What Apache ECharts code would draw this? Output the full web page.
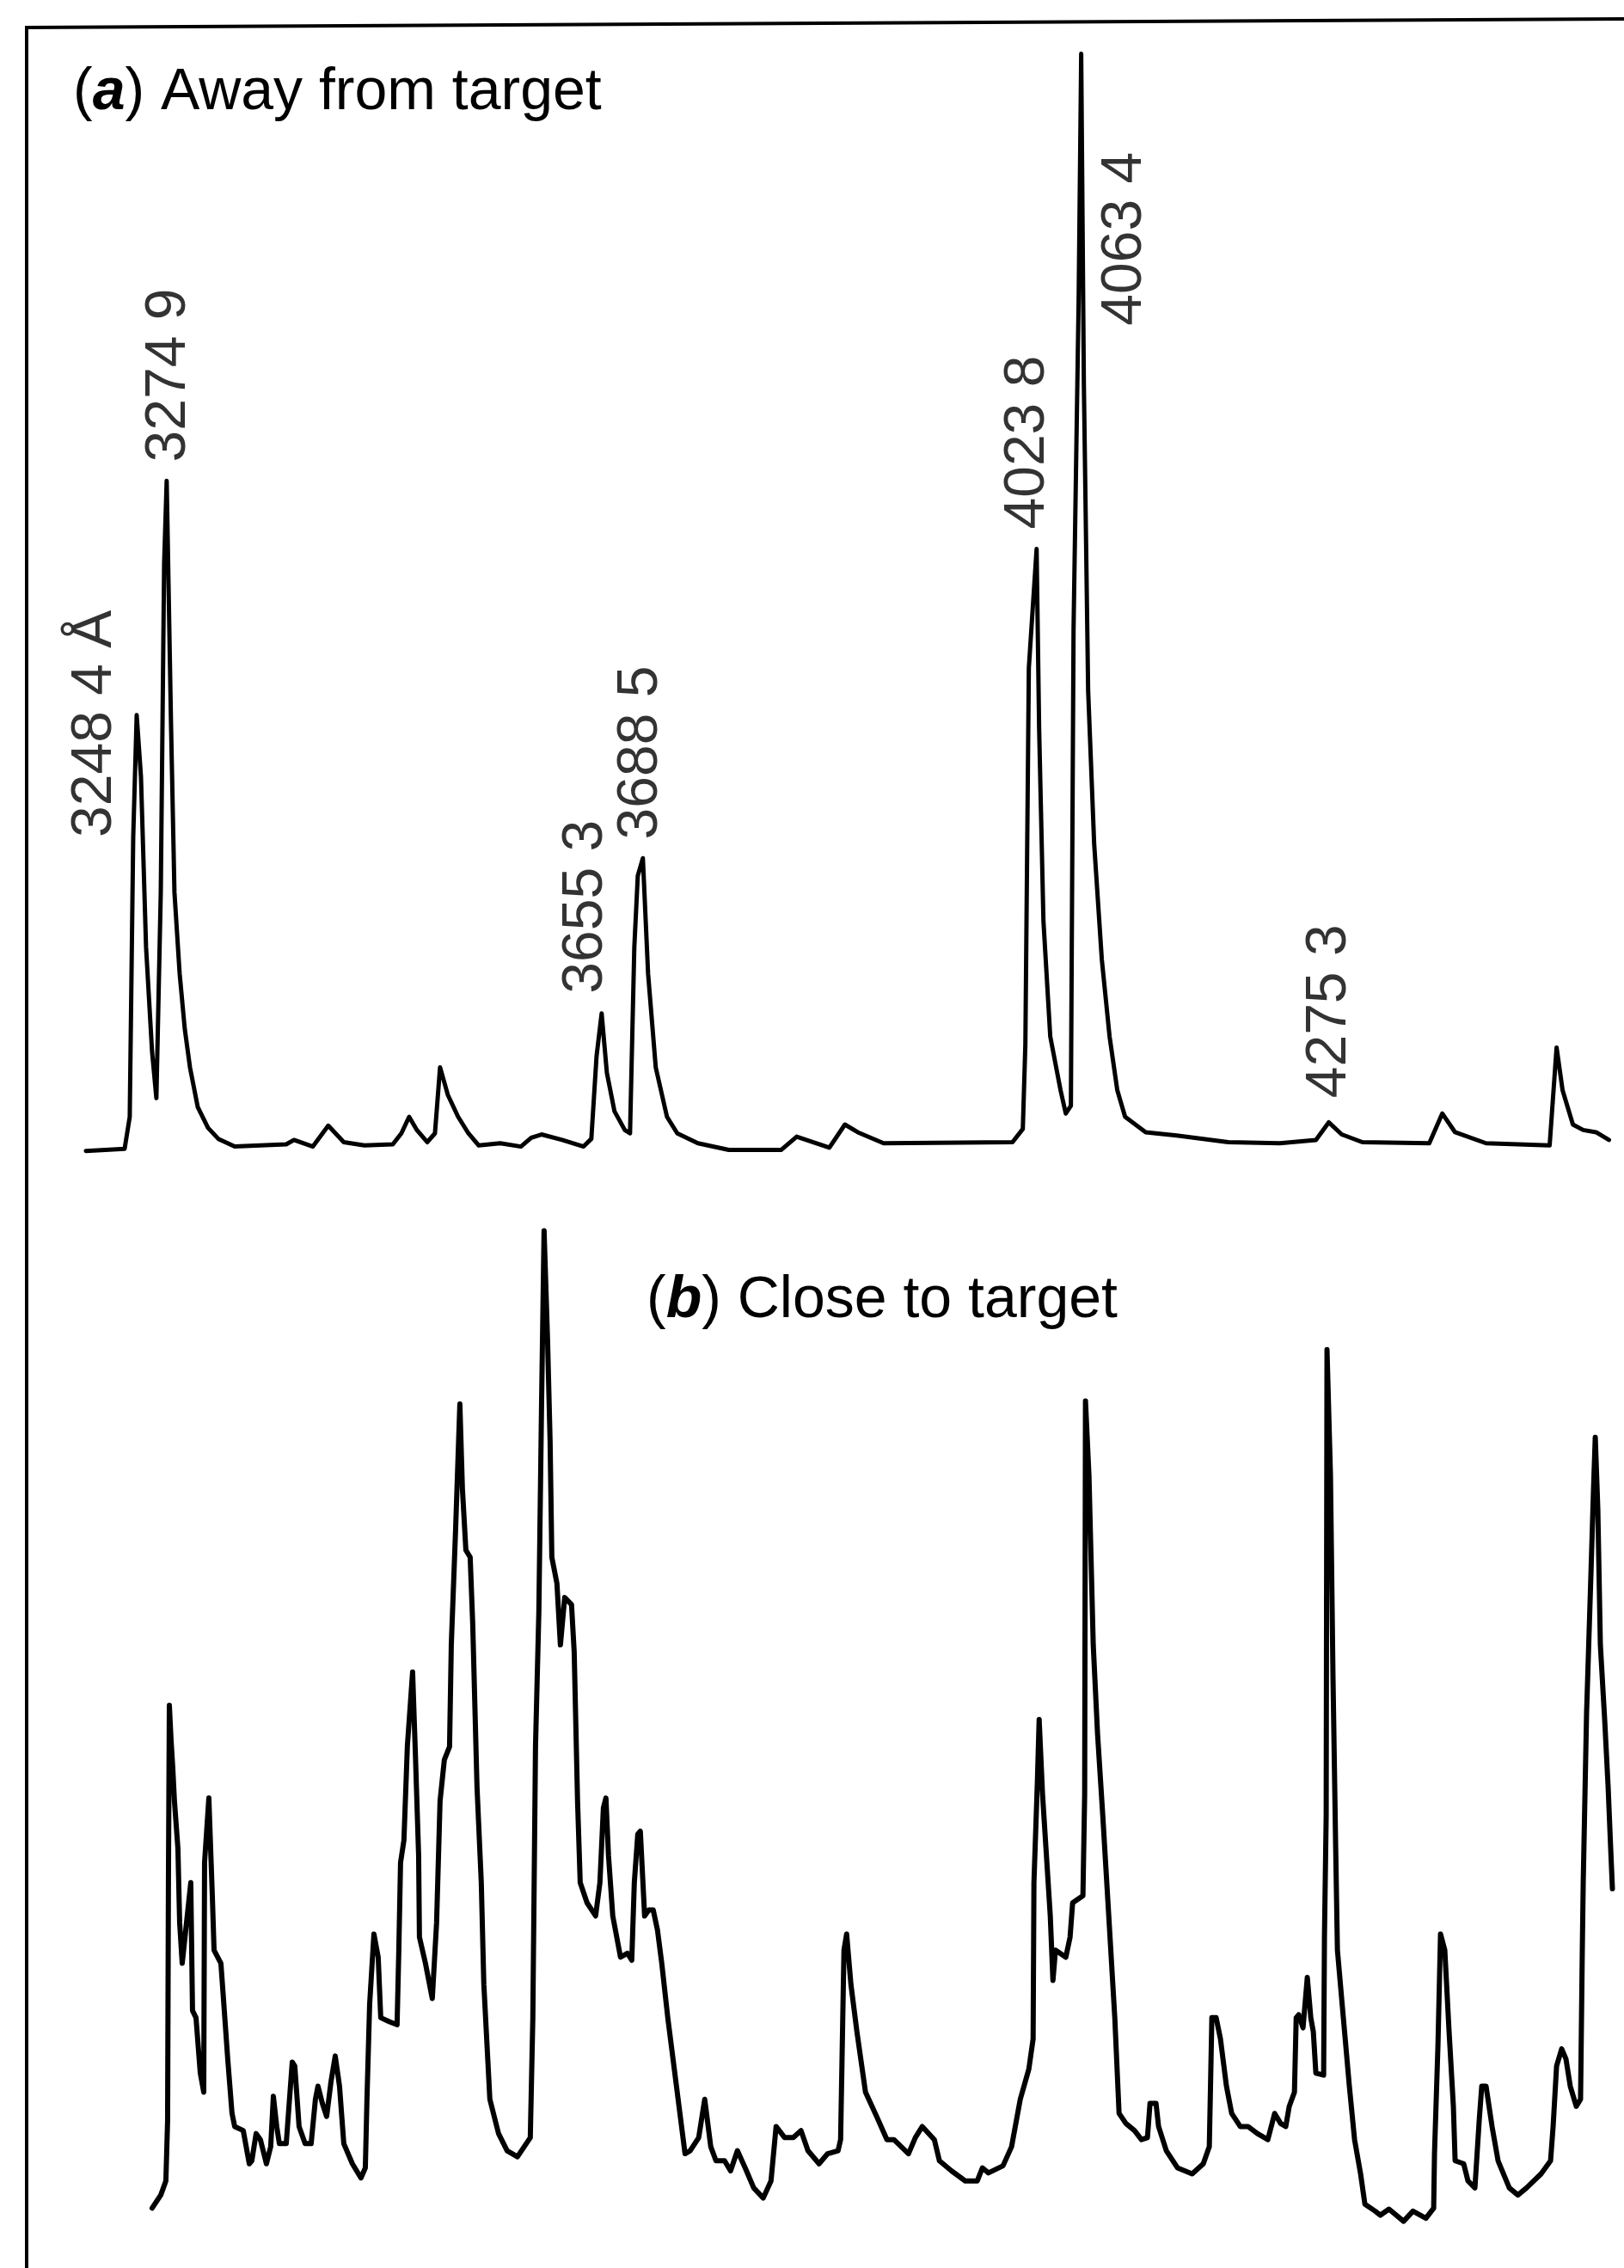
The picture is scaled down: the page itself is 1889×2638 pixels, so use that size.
<!DOCTYPE html>
<html>
<head>
<meta charset="utf-8">
<script src="https://cdn.jsdelivr.net/npm/echarts@6/dist/echarts.min.js"></script>
<style>
html,body{margin:0;padding:0;background:#fff;}
#chart{width:1889px;height:2638px;}
</style>
</head>
<body>
<div id="chart"></div>
<script>
// (a) Away from target — wavelength (Å) and relative intensity (% of strongest line)
var waveA = [3204.2,3237.6,3242.0,3245.0,3248.0,3251.7,3256.1,3261.3,3265.0,3268.8,3271.7,3273.9,3277.7,3280.6,3285.1,3289.5,3294.0,3300.7,3309.6,3318.5,3332.6,3354.8,3377.1,3383.8,3400.1,3413.4,3426.8,3444.6,3469.1,3476.5,3483.2,3489.9,3498.8,3505.5,3509.9,3516.6,3525.5,3534.4,3543.3,3561.8,3579.7,3588.6,3597.5,3615.3,3633.8,3640.5,3645.0,3649.4,3653.9,3660.5,3669.4,3673.9,3677.6,3680.6,3685.0,3689.5,3696.1,3705.8,3714.7,3732.5,3759.2,3804.5,3817.8,3834.9,3846.0,3859.4,3870.5,3892.8,4004.1,4013.0,4015.2,4018.2,4024.9,4027.1,4030.8,4036.7,4045.6,4050.1,4054.5,4056.8,4061.2,4063.4,4065.7,4069.4,4074.6,4081.2,4087.9,4094.6,4101.3,4119.1,4145.8,4190.3,4234.8,4266.0,4277.1,4288.3,4306.1,4363.9,4375.1,4386.2,4412.9,4467.8,4473.8,4479.0,4487.9,4496.8,4507.9,4519.0];
var intensityA = [0.1,0.3,3.2,28.6,39.7,34.1,18.6,9.1,4.9,23.6,53.5,61.0,38.6,23.6,16.2,11.2,7.7,4.1,2.2,1.2,0.5,0.6,0.7,1.1,0.5,2.4,0.9,0.6,0.7,1.7,3.2,2.0,0.9,1.7,7.7,5.2,3.2,1.7,0.6,0.8,0.5,1.3,1.6,1.1,0.5,1.2,8.7,12.6,7.2,3.7,2.0,1.7,18.6,25.1,26.7,16.2,7.7,3.2,1.7,0.8,0.2,0.2,1.4,0.8,0.4,2.5,1.8,0.8,0.9,2.1,9.8,44.0,54.8,38.4,21.0,10.5,5.6,3.5,4.2,47.5,77.5,99.8,69.8,41.9,28.0,17.5,10.5,5.6,3.2,1.8,1.5,0.9,0.8,1.1,2.7,1.6,0.9,0.8,3.5,1.8,0.8,0.6,9.5,5.6,2.5,2.0,1.8,1.1];

// (b) Close to target
var waveB = [3261.3,3268.8,3273.2,3274.7,3275.4,3276.2,3277.7,3279.1,3280.6,3283.6,3285.1,3287.3,3291.0,3294.7,3296.2,3299.2,3302.9,3305.9,3306.6,3310.3,3313.3,3314.8,3320.7,3322.9,3326.6,3330.3,3332.6,3340.0,3345.2,3347.4,3351.1,3354.8,3360.0,3363.7,3366.0,3368.9,3371.2,3377.1,3382.3,3384.5,3388.2,3393.4,3398.6,3402.3,3404.5,3408.3,3412.0,3415.7,3419.4,3423.1,3426.8,3434.2,3441.6,3445.4,3446.8,3449.1,3452.8,3456.5,3458.7,3466.1,3472.8,3474.3,3475.8,3478.7,3481.7,3486.2,3488.4,3491.4,3492.1,3497.3,3503.2,3506.9,3509.9,3513.6,3518.1,3519.6,3523.3,3527.0,3529.2,3532.2,3535.9,3538.1,3541.8,3545.5,3547.7,3552.9,3560.4,3567.8,3576.7,3587.8,3590.0,3592.3,3595.2,3597.5,3599.7,3602.7,3604.9,3606.4,3608.6,3610.8,3613.8,3617.5,3623.4,3625.7,3628.6,3630.9,3636.8,3644.2,3647.9,3650.9,3653.1,3655.3,3659.0,3665.7,3671.7,3675.4,3677.6,3680.6,3682.8,3686.5,3690.2,3693.9,3697.6,3701.3,3706.5,3714.0,3721.4,3725.8,3733.2,3738.4,3743.6,3748.1,3755.5,3760.7,3766.6,3773.3,3780.7,3788.9,3795.6,3800.0,3807.4,3814.9,3821.5,3827.5,3837.1,3844.5,3853.5,3855.7,3858.6,3860.9,3864.6,3869.8,3877.2,3886.8,3895.7,3901.7,3914.3,3920.2,3926.2,3936.6,3941.0,3951.4,3963.3,3973.7,3978.1,3983.3,3995.9,4003.3,4010.8,4018.2,4021.9,4022.6,4025.6,4027.1,4030.0,4033.0,4036.7,4039.0,4041.2,4050.1,4053.8,4056.0,4064.9,4066.4,4067.1,4070.1,4073.8,4077.5,4082.0,4087.2,4092.4,4096.1,4102.0,4109.4,4115.4,4120.6,4122.8,4128.0,4130.2,4136.9,4146.5,4159.2,4168.8,4174.0,4176.2,4179.9,4183.6,4188.8,4193.3,4200.7,4207.4,4215.5,4224.5,4230.4,4235.6,4240.0,4243.0,4247.5,4249.0,4251.2,4254.9,4258.6,4261.6,4263.8,4266.0,4272.7,4273.4,4274.9,4275.6,4278.6,4280.8,4283.1,4284.6,4289.7,4294.9,4299.4,4304.6,4308.3,4317.2,4321.7,4329.1,4341.7,4349.8,4361.0,4367.7,4368.4,4371.4,4373.6,4377.3,4381.0,4384.7,4386.2,4393.6,4397.3,4403.3,4407.0,4409.2,4412.9,4418.1,4423.3,4433.0,4440.4,4447.8,4460.4,4468.6,4470.8,4473.8,4478.2,4481.9,4485.6,4490.8,4494.5,4496.0,4496.8,4499.7,4503.4,4505.7,4507.2,4509.4,4511.6,4515.3,4518.3,4520.5,4522.0];
var intensityB = [2.7,4.0,5.4,11.4,35.0,52.6,49.1,46.5,43.1,38.4,31.0,27.0,31.0,35.0,22.3,21.6,16.1,14.2,37.0,43.4,33.7,28.3,27.0,23.5,17.5,12.1,10.8,10.4,7.1,7.4,10.1,9.5,7.1,8.8,13.8,10.8,9.1,9.1,17.2,16.8,10.8,9.1,9.1,13.5,14.8,13.1,11.8,15.2,17.8,14.8,9.1,7.1,5.7,6.7,13.5,22.9,29.9,27.6,21.6,21.2,20.9,28.3,37.0,39.2,48.6,55.9,48.5,37.7,29.6,27.0,23.5,31.0,43.1,47.2,48.5,58.6,70.0,82.5,74.1,68.0,67.3,60.7,44.5,35.0,24.9,13.5,10.1,8.4,7.8,9.7,21.6,48.5,61.9,82.2,99.7,88.9,78.8,67.3,66.0,64.7,58.6,63.3,62.6,57.9,43.1,35.0,33.0,31.7,35.0,42.4,43.4,37.7,31.7,27.6,28.0,27.3,35.0,39.8,40.1,31.7,32.3,32.3,30.3,27.0,21.6,14.8,8.1,8.4,9.7,13.5,8.8,7.4,7.4,6.4,8.4,6.7,4.7,3.7,5.4,10.8,9.7,9.7,10.4,8.4,7.1,8.1,8.4,9.5,28.3,29.9,24.9,20.2,14.2,11.8,9.5,9.5,8.1,9.7,10.8,9.5,7.4,6.4,5.4,5.4,6.7,6.2,6.9,8.8,13.5,16.5,19.5,35.0,45.1,51.2,43.8,38.4,31.7,25.3,28.3,27.6,29.6,33.0,33.7,43.8,82.8,75.4,58.6,49.8,41.7,31.7,21.6,12.1,11.1,10.4,9.5,9.7,13.1,13.1,10.8,8.4,6.7,6.1,7.1,8.8,21.6,21.6,19.5,14.8,12.1,10.8,10.8,10.1,9.5,12.1,11.1,10.8,12.8,14.2,21.6,21.9,20.6,25.6,21.6,20.2,16.1,15.9,29.6,41.7,87.9,75.4,55.2,38.4,28.3,21.6,14.8,9.5,6.1,3.1,2.4,2.0,2.6,1.4,2.4,1.7,2.7,8.1,18.9,29.9,28.3,20.2,12.8,7.4,7.1,5.4,4.7,11.4,14.8,14.8,10.8,7.4,4.7,4.0,4.7,6.1,7.4,10.8,16.8,18.5,17.5,14.8,12.8,13.5,28.3,35.0,51.9,65.4,74.1,79.2,72.1,58.6,51.2,44.5,38.4,34.4];

// Line labels in panel (a): text, wavelength position, height where the text starts
var labelText = ['3248 4 Å','3274 9','3655 3','3688 5','4023 8','4063 4','4275 3'];
var labelWave = [3212.4,3276.2,3636.0,3683.5,4017.4,4101.3,4277.9];
var labelHeight = [28.6,62.7,14.4,28.4,56.6,75.1,4.9];

var titleA = ['a', ' Away from target'];
var titleB = ['b', ' Close to target'];

function zip(xs, ys){ var out=[]; for(var i=0;i<xs.length;i++){ out.push([xs[i], ys[i]]); } return out; }
var labelData = labelText.map(function(t,i){ return {value:[labelWave[i], labelHeight[i]], name:t}; });

var FONT = '"Liberation Sans", Arial, Helvetica, sans-serif';
var chart = echarts.init(document.getElementById('chart'), null, {renderer:'canvas'});
var rich = {
  p: {fontFamily: FONT, fontSize: 68, color:'#000', fontWeight:'normal', lineHeight: 68},
  i: {fontFamily: FONT, fontSize: 68, color:'#000', fontStyle:'italic', fontWeight:'bold', lineHeight: 68}
};
function titleText(t){ return '{p|(}{i|' + t[0] + '}{p|)' + t[1] + '}'; }
var option = {
  backgroundColor: '#ffffff',
  animation: false,
  title: [
    { text: titleText(titleA), left: 80, top: 69, textStyle: {fontWeight:'normal', rich: rich} },
    { text: titleText(titleB), left: 747, top: 1474, textStyle: {fontWeight:'normal', rich: rich} }
  ],
  grid: [
    {left: 0, right: 0, top: 60, height: 1280, show: false},
    {left: 0, right: 0, top: 1428, height: 1172, show: false}
  ],
  xAxis: [
    {type:'value', gridIndex:0, min:3130, max:4532, show:false},
    {type:'value', gridIndex:1, min:3130, max:4532, show:false}
  ],
  yAxis: [
    {type:'value', gridIndex:0, min:0, max:100, show:false},
    {type:'value', gridIndex:1, min:0, max:100, show:false}
  ],
  graphic: [
    {type:'line', shape:{x1:31, y1:30, x2:31, y2:2638}, style:{stroke:'#000', lineWidth:4}, silent:true},
    {type:'line', shape:{x1:29, y1:32, x2:1889, y2:22}, style:{stroke:'#000', lineWidth:4}, silent:true}
  ],
  series: [
    {type:'line', xAxisIndex:0, yAxisIndex:0, data: zip(waveA, intensityA), symbol:'none', clip:false,
     lineStyle:{color:'#000', width:5, join:'round', cap:'round'}},
    {type:'line', xAxisIndex:1, yAxisIndex:1, data: zip(waveB, intensityB), symbol:'none', clip:false,
     lineStyle:{color:'#000', width:6, join:'round', cap:'round'}},
    {type:'scatter', xAxisIndex:0, yAxisIndex:0, data: labelData, symbolSize: 0, silent:true,
     itemStyle:{color:'#000'},
     label:{show:true, position:'inside', rotate:90, align:'left', verticalAlign:'middle',
       formatter: function(p){ return p.name; }, fontFamily: FONT, fontSize: 66, color:'#000',
       textBorderWidth: 0}}
  ]
};
chart.setOption(option);
</script>
</body>
</html>
